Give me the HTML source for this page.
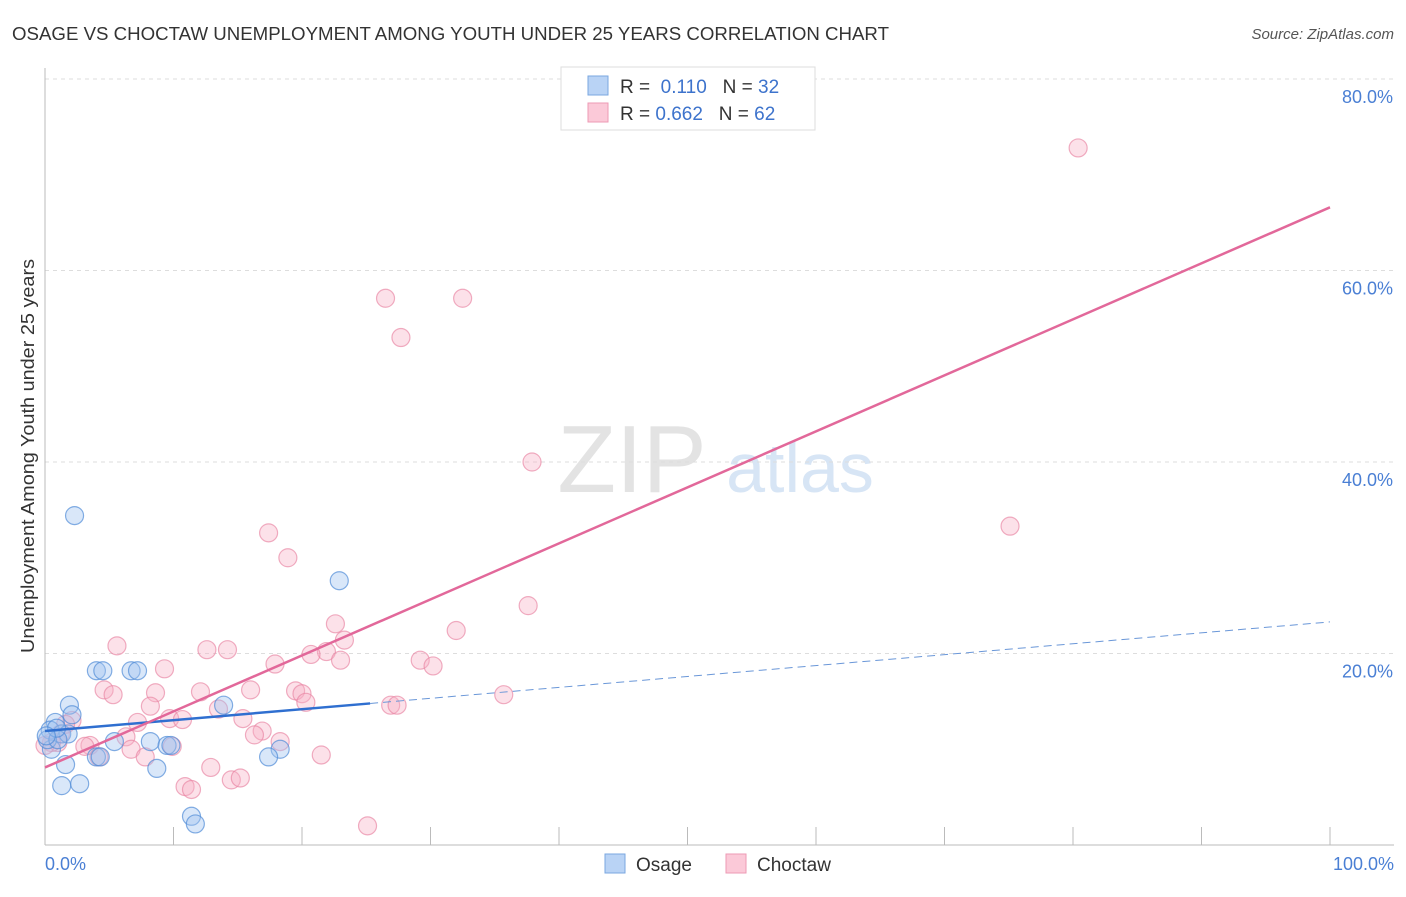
<!DOCTYPE html>
<html><head><meta charset="utf-8"><style>
body{margin:0;background:#fff;font-family:"Liberation Sans",sans-serif;}
svg text{font-family:"Liberation Sans",sans-serif;}
</style></head><body>
<svg id="c" width="1406" height="892">
<text x="12" y="40" font-size="18" fill="#333" textLength="877" lengthAdjust="spacingAndGlyphs">OSAGE VS CHOCTAW UNEMPLOYMENT AMONG YOUTH UNDER 25 YEARS CORRELATION CHART</text>
<text x="1394" y="39" font-size="15" fill="#555" font-style="italic" text-anchor="end">Source: ZipAtlas.com</text>
<g><text x="632" y="492" font-size="96" font-family="Liberation Serif" fill="#e3e3e3" text-anchor="middle">ZIP</text><text x="800" y="492" font-size="70" fill="#d7e5f5" text-anchor="middle">atlas</text></g>
<g id="grid"></g><g id="pts"></g><g id="lines"></g>
<text transform="translate(34,456) rotate(-90)" font-size="18" fill="#333" text-anchor="middle" textLength="394" lengthAdjust="spacingAndGlyphs">Unemployment Among Youth under 25 years</text>
<text x="45" y="870" font-size="18" fill="#4a7fd4">0.0%</text>
<text x="1394" y="870" font-size="18" fill="#4a7fd4" text-anchor="end">100.0%</text>
<g>
<rect x="561" y="67" width="254" height="63" fill="#fff" stroke="#ddd"/>
<rect x="588" y="76" width="20" height="19" fill="#b9d3f5" stroke="#7aa7e0"/>
<rect x="588" y="103" width="20" height="19" fill="#fbc9d8" stroke="#ee9ab4"/>
<text x="620" y="93" font-size="19" fill="#333">R = <tspan fill="#3d73cc">&#160;0.110</tspan>&#160;&#160;&#160;N = <tspan fill="#3d73cc">32</tspan></text>
<text x="620" y="120" font-size="19" fill="#333">R = <tspan fill="#3d73cc">0.662</tspan>&#160;&#160;&#160;N = <tspan fill="#3d73cc">62</tspan></text>
</g>
<g>
<rect x="605" y="854" width="20" height="19" fill="#b9d3f5" stroke="#7aa7e0"/>
<text x="636" y="871" font-size="19" fill="#333">Osage</text>
<rect x="726" y="854" width="20" height="19" fill="#fbc9d8" stroke="#ee9ab4"/>
<text x="757" y="871" font-size="19" fill="#333">Choctaw</text>
</g>
</svg>
<script>
const yTicks=[20,40,60,80];
const yTickLabels=["20.0%","40.0%","60.0%","80.0%"];
const xTicks=[0,10,20,30,40,50,60,70,80,90,100];
const osageX=[2.3,22.9,4.0,4.5,6.7,7.2,1.9,13.9,2.1,0.8,0.4,1.3,1.8,5.4,8.2,9.5,9.8,0.5,4.0,4.3,18.3,17.4,1.6,8.7,1.3,2.7,11.4,11.7,0.2,1.0,0.9,0.1];
const osageY=[34.4,27.6,18.2,18.2,18.2,18.2,14.6,14.6,13.6,12.8,12.0,11.6,11.6,10.8,10.8,10.4,10.4,10.0,9.2,9.2,10.0,9.2,8.4,8.0,6.2,6.4,3.0,2.2,11.0,11.0,12.2,11.4];
const choctawX=[80.4,26.5,32.5,27.7,37.9,75.1,17.4,18.9,37.6,22.6,32.0,23.3,5.6,12.6,14.2,21.9,20.7,23.0,9.3,17.9,29.2,30.2,4.6,5.3,8.6,12.1,16.0,19.5,20.0,20.3,35.7,26.9,27.4,8.2,13.5,9.7,10.7,7.2,2.1,15.4,16.9,16.3,6.3,1.2,1.0,9.9,3.5,18.3,6.7,0.5,3.1,7.8,4.2,21.5,12.9,10.9,11.4,14.5,15.2,25.1,1.6,0.0];
const choctawY=[72.8,57.1,57.1,53.0,40.0,33.3,32.6,30.0,25.0,23.1,22.4,21.4,20.8,20.4,20.4,20.2,19.9,19.3,18.4,18.9,19.3,18.7,16.2,15.7,15.9,16.0,16.2,16.1,15.8,14.9,15.7,14.6,14.6,14.5,14.2,13.2,13.1,12.8,13.0,13.2,11.9,11.5,11.3,11.6,10.7,10.3,10.4,10.8,10.0,10.7,10.3,9.2,9.2,9.4,8.1,6.1,5.8,6.8,7.0,2.0,12.6,10.4];
const osageTrend=[11.9,0.114]; // intercept, slope
const osageSolidEnd=25.3;
const choctawTrend=[8.1,0.585];
const X=v=>45+v*12.85, Y=v=>845-v*9.575;
const NS="http://www.w3.org/2000/svg";
function mk(t,a,p){const e=document.createElementNS(NS,t);for(const k in a)e.setAttribute(k,a[k]);p.appendChild(e);return e;}
const g=document.getElementById('grid');
yTicks.forEach((t,i)=>{
 const l=mk('line',{x1:45,x2:1394,y1:Y(t),y2:Y(t),stroke:'#ddd','stroke-dasharray':'4,4'},g);
 
 
 const tx=mk('text',{x:1393,y:Y(t)+24,'font-size':18,fill:'#4a7fd4','text-anchor':'end'},g);
 tx.textContent=yTickLabels[i];
 
 
});
const ax=mk('line',{x1:45,x2:45,y1:68,y2:845,stroke:'#bbb'},g);


const bx=mk('line',{x1:45,x2:1394,y1:845,y2:845,stroke:'#bbb'},g);


xTicks.forEach(t=>{const l=mk('line',{x1:X(t),x2:X(t),y1:827,y2:845,stroke:'#bbb'},g);
 
 });
const p=document.getElementById('pts');
choctawX.forEach((x,i)=>{const c=mk('circle',{cx:X(x),cy:Y(choctawY[i]),r:9,fill:'rgba(248,175,197,0.38)',stroke:'rgba(232,130,162,0.65)','stroke-width':1.2},p);
 
 });
osageX.forEach((x,i)=>{const c=mk('circle',{cx:X(x),cy:Y(osageY[i]),r:9,fill:'rgba(160,196,240,0.4)',stroke:'rgba(80,140,215,0.7)','stroke-width':1.2},p);
 
 });
const L=document.getElementById('lines');
const ol=mk('line',{x1:X(0),y1:Y(osageTrend[0]),x2:X(osageSolidEnd),y2:Y(osageTrend[0]+osageTrend[1]*osageSolidEnd),stroke:'#2f6fd0','stroke-width':2.5},L);


const od=mk('line',{x1:X(osageSolidEnd),y1:Y(osageTrend[0]+osageTrend[1]*osageSolidEnd),x2:X(100),y2:Y(osageTrend[0]+osageTrend[1]*100),stroke:'#6a97d8','stroke-width':1,'stroke-dasharray':'8,5'},L);


const cl=mk('line',{x1:X(0),y1:Y(choctawTrend[0]),x2:X(100),y2:Y(choctawTrend[0]+choctawTrend[1]*100),stroke:'#e2689a','stroke-width':2.5},L);


</script>
</body></html>
